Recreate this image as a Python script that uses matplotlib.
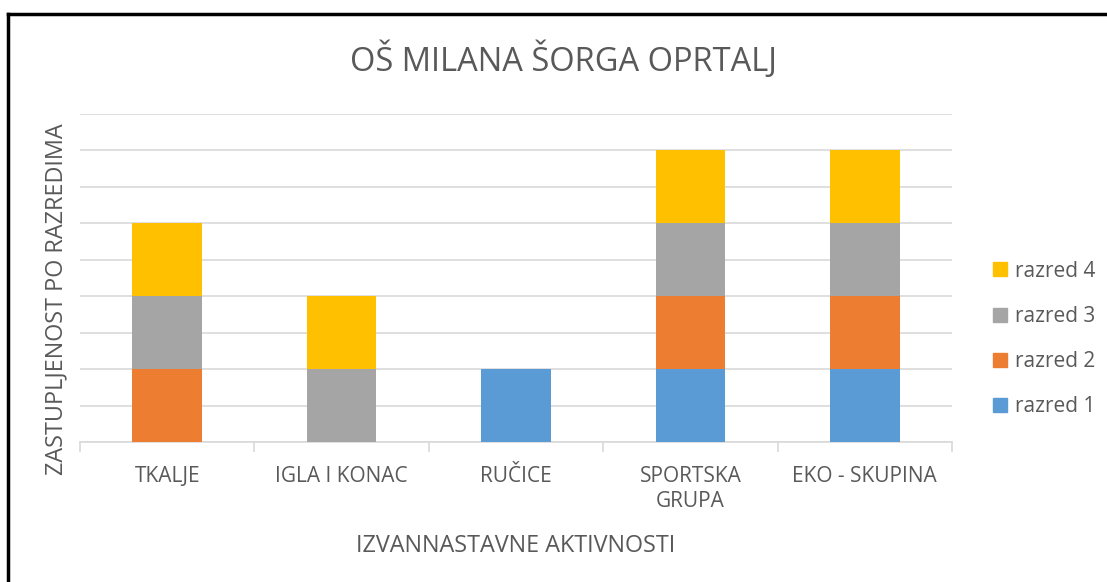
import matplotlib
matplotlib.use("Agg")
import matplotlib.pyplot as plt
from matplotlib.lines import Line2D
import numpy as np

categories = ["TKALJE", "IGLA I KONAC", "RUČICE", "SPORTSKA\nGRUPA", "EKO - SKUPINA"]
series_names = ["razred 1", "razred 2", "razred 3", "razred 4"]
razred_1 = [0, 0, 1, 1, 1]
razred_2 = [1, 0, 0, 1, 1]
razred_3 = [1, 1, 0, 1, 1]
razred_4 = [1, 1, 0, 1, 1]
colors = ["#5B9BD5", "#ED7D31", "#A5A5A5", "#FFC000"]

title = "OŠ MILANA ŠORGA OPRTALJ"
xlabel = "IZVANNASTAVNE AKTIVNOSTI"
ylabel = "ZASTUPLJENOST PO RAZREDIMA"

plt.rcParams['font.family'] = ['Open Sans', 'DejaVu Sans']
txt = "#595959"

fig = plt.figure(figsize=(11.07, 5.82), dpi=100)
ax = fig.add_axes([80/1107, 140/582, 872/1107, 328/582])

x = np.arange(len(categories))
bottom = np.zeros(len(categories))
handles = []
for name, vals, c in zip(series_names, [razred_1, razred_2, razred_3, razred_4], colors):
    ax.bar(x, vals, bottom=bottom, width=0.4, color=c, label=name, zorder=3)
    bottom += np.array(vals)
    handles.append(Line2D([], [], marker='s', linestyle='none', markersize=10,
                          markerfacecolor=c, markeredgecolor=c, label=name))

ax.set_xlim(-0.5, len(categories) - 0.5)
ax.set_ylim(0, 4.5)
ax.set_yticks(np.arange(0, 4.51, 0.5))
ax.yaxis.grid(True, color="#D9D9D9", linewidth=1.2, zorder=0)
ax.tick_params(axis='y', length=0, labelleft=False)

ax.set_xticks(x)
ax.set_xticklabels(categories, fontsize=15, color=txt, linespacing=1.25)
ax.set_xticks(np.arange(-0.5, len(categories), 1.0), minor=True)
ax.tick_params(axis='x', which='major', length=0, pad=17)
ax.tick_params(axis='x', which='minor', length=7, width=1.2, color="#D9D9D9", direction='out')

for s in ['top', 'right', 'left']:
    ax.spines[s].set_visible(False)
ax.spines['bottom'].set_color("#D9D9D9")
ax.spines['bottom'].set_linewidth(1.2)

ax.set_xlabel(xlabel, fontsize=16.8, color=txt, labelpad=16)
ax.set_ylabel(ylabel, fontsize=16.8, color=txt)
ax.yaxis.set_label_coords(-0.013, (582 - 299 - 140) / 328)

fig.text(563/1107, 1 - 60/582, title, ha='center', va='center', fontsize=23.5, color=txt)

leg = fig.legend(handles=handles[::-1], labels=series_names[::-1], loc='center left',
                 bbox_to_anchor=(990/1107, 1 - 339/582), frameon=False, fontsize=15,
                 labelcolor=txt, handletextpad=0.2, labelspacing=1.16, handlelength=1.0,
                 borderaxespad=0, borderpad=0)

# outer border (left and top)
fig.add_artist(Line2D([8/1107, 8/1107], [0, 1 - 14/582], color='black', linewidth=2.5,
                      transform=fig.transFigure))
fig.add_artist(Line2D([8/1107, 1], [1 - 14/582, 1 - 14/582], color='black', linewidth=2.5,
                      transform=fig.transFigure))

fig.savefig("out.png", dpi=100)
